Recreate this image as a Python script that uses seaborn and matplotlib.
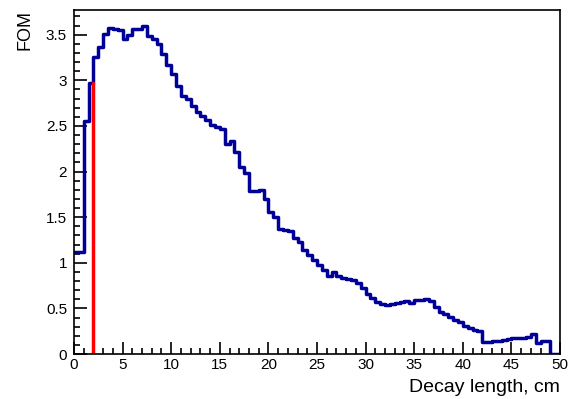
import numpy as np
import pandas as pd
import matplotlib
matplotlib.use("Agg")
import matplotlib.pyplot as plt
from matplotlib.ticker import MultipleLocator
import seaborn as sns

# Figure of merit per 0.5 cm decay-length bin, 0-50 cm
bin_edges = [i * 0.5 for i in range(101)]
fom = [
    1.12, 1.12, 2.55, 2.97, 3.26, 3.36, 3.51, 3.57, 3.56, 3.55,   # 0 - 5
    3.45, 3.50, 3.56, 3.56, 3.59, 3.49, 3.45, 3.40, 3.29, 3.17,   # 5 - 10
    3.07, 2.94, 2.83, 2.79, 2.72, 2.65, 2.61, 2.56, 2.51, 2.49,   # 10 - 15
    2.47, 2.30, 2.33, 2.21, 2.05, 1.98, 1.79, 1.79, 1.80, 1.70,   # 15 - 20
    1.56, 1.50, 1.37, 1.36, 1.35, 1.27, 1.23, 1.14, 1.08, 1.03,   # 20 - 25
    0.97, 0.92, 0.86, 0.90, 0.85, 0.83, 0.82, 0.81, 0.78, 0.72,   # 25 - 30
    0.66, 0.61, 0.57, 0.55, 0.54, 0.55, 0.56, 0.57, 0.58, 0.56,   # 30 - 35
    0.59, 0.59, 0.60, 0.58, 0.52, 0.46, 0.44, 0.41, 0.37, 0.35,   # 35 - 40
    0.31, 0.28, 0.26, 0.25, 0.13, 0.13, 0.14, 0.14, 0.15, 0.16,   # 40 - 45
    0.17, 0.18, 0.18, 0.19, 0.22, 0.12, 0.14, 0.14, 0.00, 0.00,   # 45 - 50
]
# Selected cut on the decay length
cut_position = 2.0

x_title = "Decay length, cm"
y_title = "FOM"

edges = np.asarray(bin_edges)
centers = 0.5 * (edges[:-1] + edges[1:])
df = pd.DataFrame({"decay_length": centers, "fom": fom})
cut_fom = fom[int(np.searchsorted(edges, cut_position)) - 1]

sns.set_style("white")
plt.rcParams["font.family"] = ["Liberation Sans", "DejaVu Sans"]
plt.rcParams["text.color"] = "black"
plt.rcParams["axes.labelcolor"] = "black"

fig = plt.figure(figsize=(5.68, 3.99), dpi=100)
ax = fig.add_axes([74 / 568, 45 / 399, (560 - 74) / 568, (354 - 10) / 399])

sns.histplot(data=df, x="decay_length", weights="fom", bins=bin_edges,
             element="step", fill=False, color="#000099", linewidth=2.5,
             ax=ax)
sns.lineplot(x=[cut_position, cut_position], y=[0.0, cut_fom],
             color="#ff0000", linewidth=2.5, ax=ax, estimator=None,
             sort=False)

ax.set_xlim(0, 50)
ax.set_ylim(0, 3.77)

ax.xaxis.set_major_locator(MultipleLocator(5))
ax.xaxis.set_minor_locator(MultipleLocator(1))
ax.yaxis.set_major_locator(MultipleLocator(0.5))
ax.yaxis.set_minor_locator(MultipleLocator(0.1))
ax.yaxis.set_major_formatter(plt.FuncFormatter(lambda v, p: f"{v:g}"))

ax.tick_params(which="both", direction="in", top=False, right=False,
               bottom=True, left=True, color="black", width=1.2,
               labelsize=11, labelcolor="black")
ax.tick_params(which="major", length=9)
ax.tick_params(which="minor", length=4.5)
ax.tick_params(axis="x", which="major", pad=3)
ax.tick_params(axis="y", which="major", pad=5)

for side in ["left", "right", "top", "bottom"]:
    ax.spines[side].set_visible(True)
    ax.spines[side].set_color("black")
    ax.spines[side].set_linewidth(1.2)

ax.set_xlabel(x_title, fontsize=14, ha="right", x=1.0, labelpad=5)
ax.set_ylabel(y_title, fontsize=13, ha="right", y=1.0, labelpad=9)
ax.grid(False)

fig.savefig("out.png", dpi=100, facecolor="white")
